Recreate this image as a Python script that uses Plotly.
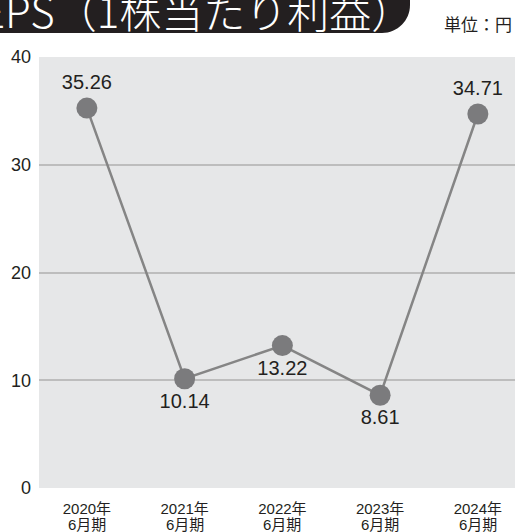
import plotly.graph_objects as go

# data
years = ['2020年', '2021年', '2022年', '2023年', '2024年']
terms = ['6月期', '6月期', '6月期', '6月期', '6月期']
eps = [35.26, 10.14, 13.22, 8.61, 34.71]
label_pos = ['top center', 'bottom center', 'bottom center', 'bottom center', 'top center']
y_ticks = [0, 10, 20, 30, 40]

JP = 'Noto Sans CJK JP'
NUM = 'Liberation Sans, Noto Sans CJK JP'
INK = '#231f20'
W, H = 521, 532
L, R, T, B = 39, 6, 57, 44
PW, PH = W - L - R, H - T - B


# pixel -> paper helpers
def px(x):
    return (x - L) / PW


def py(y):
    return (H - B - y) / PH


fig = go.Figure()
fig.add_trace(go.Scatter(
    x=list(range(len(eps))), y=eps,
    mode='lines+markers+text',
    text=[f'{v:.2f}' for v in eps],
    textposition=label_pos,
    textfont=dict(family=NUM, size=20, color=INK),
    line=dict(color='#858585', width=2.5),
    marker=dict(size=21, color='#7b7b7d'),
    cliponaxis=False,
    hoverinfo='skip',
))

# title tab (rounded bottom-right corner)
r = 28
x0, x1, y0, y1 = -20, 410, -20, 33
k = 0.552 * r
tab = (f'M {px(x0)} {py(y0)} L {px(x1)} {py(y0)} L {px(x1)} {py(y1 - r)} '
       f'C {px(x1)} {py(y1 - r + k)} {px(x1 - r + k)} {py(y1)} {px(x1 - r)} {py(y1)} '
       f'L {px(x0)} {py(y1)} Z')
fig.add_shape(type='path', path=tab, xref='paper', yref='paper',
              fillcolor=INK, line=dict(width=0), layer='above')

fig.add_annotation(text='EPS（1株当たり利益）', xref='paper', yref='paper',
                   x=px(415), y=py(9), xanchor='right', yanchor='middle',
                   showarrow=False, font=dict(family=JP, size=42, color='white', weight=300))
fig.add_annotation(text='単位：円', xref='paper', yref='paper',
                   x=px(442), y=py(23), xanchor='left', yanchor='middle',
                   showarrow=False, font=dict(family=JP, size=17, color=INK))

# second line of the category labels
for i, t in enumerate(terms):
    fig.add_annotation(text=t, x=i, xref='x', y=py(524), yref='paper',
                       xanchor='center', yanchor='middle', showarrow=False,
                       font=dict(family=NUM, size=15, color=INK))

fig.update_xaxes(
    range=[-0.49, 4.38], tickvals=list(range(len(years))), ticktext=years,
    showgrid=False, zeroline=False, showline=False, ticks='', ticklabelstandoff=10,
    tickfont=dict(family=NUM, size=15, color=INK),
)
fig.update_yaxes(
    range=[0, 40], tickvals=y_ticks, showgrid=True, gridcolor='#bdbdbd', gridwidth=2,
    zeroline=False, showline=False, ticks='', ticklabelstandoff=7,
    tickfont=dict(family=NUM, size=18, color=INK),
)
fig.update_layout(
    width=W, height=H, margin=dict(l=L, r=R, t=T, b=B),
    paper_bgcolor='white', plot_bgcolor='#e6e7e8',
    showlegend=False,
)

# the page body has a default 8px margin; drop it so the figure fills the window
fig.write_html('out.html', config={'staticPlot': True},
               post_script="document.body.style.margin='0';")
